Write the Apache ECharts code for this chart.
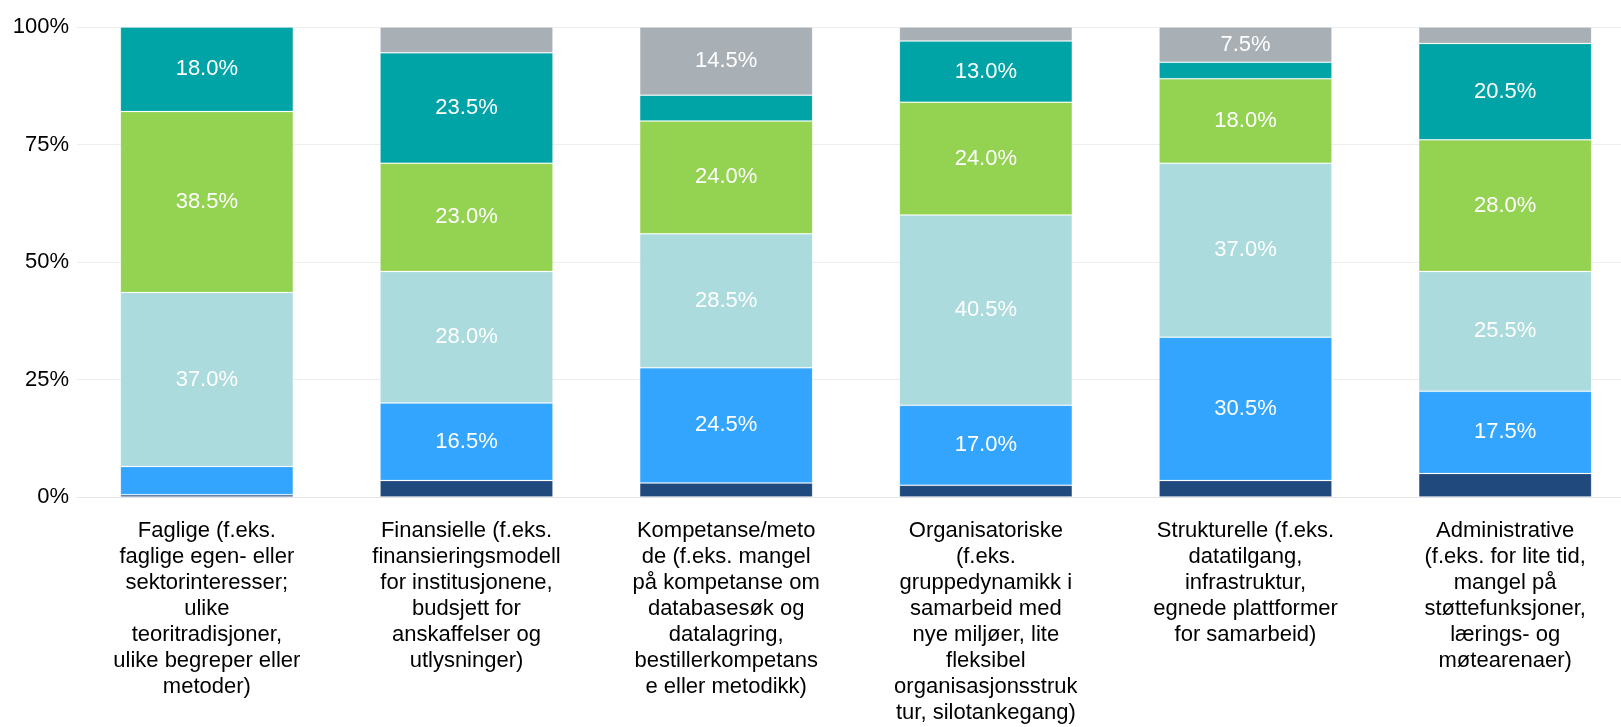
<!DOCTYPE html>
<html>
<head>
  <meta charset="utf-8">
  <title>Barrierer for samarbeid</title>
  <script src="https://cdn.jsdelivr.net/npm/echarts@6/dist/echarts.min.js"></script>
  <style>
    html, body {
      margin: 0;
      padding: 0;
      background: #fff;
    }

    #chartBox {
      width: 1621px;
      height: 727px;
    }
  </style>
</head>
<body>
<div id="chartBox"></div>
<script>
  // kategorier (linjeskift som i originalen)
  let categories = [
    'Faglige (f.eks.\nfaglige egen- eller\nsektorinteresser;\nulike\nteoritradisjoner,\nulike begreper eller\nmetoder)',
    'Finansielle (f.eks.\nfinansieringsmodell\nfor institusjonene,\nbudsjett for\nanskaffelser og\nutlysninger)',
    'Kompetanse/meto\nde (f.eks. mangel\npå kompetanse om\ndatabasesøk og\ndatalagring,\nbestillerkompetans\ne eller metodikk)',
    'Organisatoriske\n(f.eks.\ngruppedynamikk i\nsamarbeid med\nnye miljøer, lite\nfleksibel\norganisasjonsstruk\ntur, silotankegang)',
    'Strukturelle (f.eks.\ndatatilgang,\ninfrastruktur,\negnede plattformer\nfor samarbeid)',
    'Administrative\n(f.eks. for lite tid,\nmangel på\nstøttefunksjoner,\nlærings- og\nmøtearenaer)'
  ];

  // andeler i prosent, nederst -> øverst
  let serie1 = [0.5, 3.5, 3.0, 2.5, 3.5, 5.0];
  let serie2 = [6.0, 16.5, 24.5, 17.0, 30.5, 17.5];
  let serie3 = [37.0, 28.0, 28.5, 40.5, 37.0, 25.5];
  let serie4 = [38.5, 23.0, 24.0, 24.0, 18.0, 28.0];
  let serie5 = [18.0, 23.5, 5.5, 13.0, 3.5, 20.5];
  let serie6 = [0.0, 5.5, 14.5, 3.0, 7.5, 3.5];

  let yTicks = [0, 25, 50, 75, 100];

  let colors = ['#204a7d', '#33a5ff', '#acdbdd', '#94d251', '#00a4a6', '#a9b0b5'];
  let fontFamily = '"Liberation Sans", Arial, sans-serif';

  function makeSeries (name, data, color) {
    return {
      name: name,
      type: 'bar',
      stack: 'total',
      barWidth: 173,
      data: data,
      itemStyle: {
        color: color,
        borderColor: 'rgba(255,255,255,0.15)',
        borderWidth: 1
      },
      label: {
        show: true,
        position: 'inside',
        color: '#fff',
        fontSize: 22,
        fontFamily: fontFamily,
        // små segmenter får ingen etikett
        formatter: p => (p.value >= 7 ? p.value.toFixed(1) + '%' : '')
      }
    };
  }

  function getOption () {
    return {
      animation: false,
      textStyle: {fontFamily: fontFamily},
      grid: {
        left: 77,
        right: -14,
        top: 27,
        bottom: 230,
        containLabel: false,
        outerBoundsMode: 'none'
      },
      xAxis: {
        type: 'category',
        data: categories,
        axisTick: {show: false},
        axisLine: {lineStyle: {color: '#e6e6e6', width: 1}},
        axisLabel: {
          color: '#000',
          fontSize: 22,
          lineHeight: 26,
          margin: 21,
          interval: 0,
          align: 'center',
          fontFamily: fontFamily
        }
      },
      yAxis: {
        type: 'value',
        min: yTicks[0],
        max: yTicks[yTicks.length - 1],
        interval: yTicks[1] - yTicks[0],
        axisLine: {show: false},
        axisTick: {show: false},
        splitLine: {lineStyle: {color: '#eeeeee', width: 1}},
        axisLabel: {
          color: '#000',
          fontSize: 22,
          margin: 8,
          padding: [0, 0, 8, 0],
          fontFamily: fontFamily,
          formatter: '{value}%'
        }
      },
      series: [
        makeSeries('1', serie1, colors[0]),
        makeSeries('2', serie2, colors[1]),
        makeSeries('3', serie3, colors[2]),
        makeSeries('4', serie4, colors[3]),
        makeSeries('5', serie5, colors[4]),
        makeSeries('6', serie6, colors[5])
      ]
    };
  }

  let myChart = echarts.init(document.getElementById('chartBox'), null, {renderer: 'canvas'});
  myChart.setOption(getOption());
</script>
</body>
</html>
